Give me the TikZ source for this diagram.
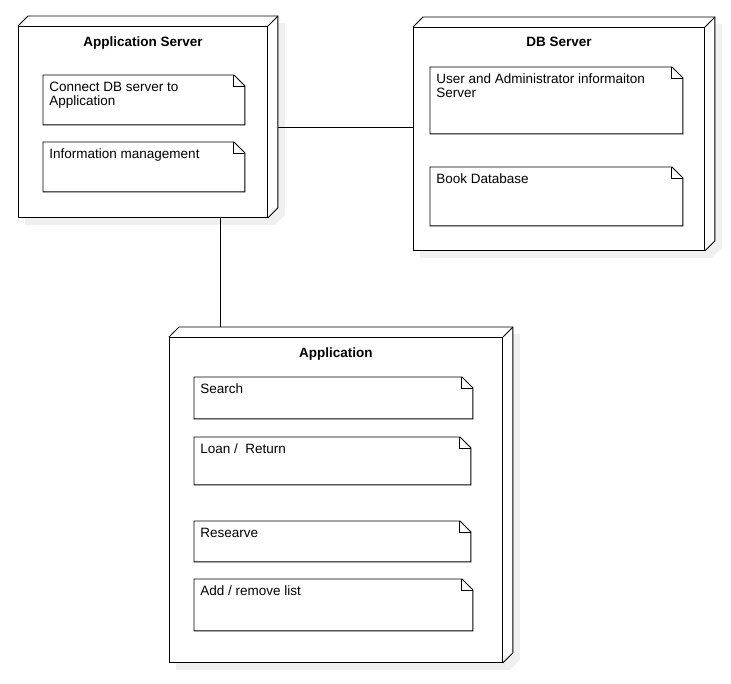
\documentclass[tikz,border=0pt]{standalone}
\usepackage{fontspec}
\setmainfont{Liberation Sans}
\usetikzlibrary{positioning, backgrounds}

\begin{document}
\begin{tikzpicture}
[x=1pt, y=-1pt, line width=0.9pt,
 device/.style={draw, fill=white, anchor=north west, inner sep=0pt},
 note/.style={anchor=north west, inner sep=0pt},
 notetext/.style={anchor=north west, align=left, inner xsep=6pt, inner ysep=6.5pt, font=\fontsize{13.5}{14}\selectfont},
 title/.style={font=\fontsize{13.5}{14}\selectfont\bfseries, inner sep=0pt}]
\useasboundingbox (0,0) rectangle (731,683);

% devices
\node[device, minimum width=249, minimum height=191] (appsrv) at (18,26) {};
\node[device, minimum width=291, minimum height=223] (dbsrv) at (413,27) {};
\node[device, minimum width=333, minimum height=325] (app) at (169,337) {};
\node[title, below=10pt of appsrv.north] (appsrvT) {Application Server};
\node[title, below=10pt of dbsrv.north] (dbsrvT) {DB Server};
\node[title, below=10pt of app.north] (appT) {Application};

% notes
\node[note, minimum width=201, minimum height=49] (n1) at (43,75) {};
\node[note, minimum width=201, minimum height=49] (n2) at (43,142) {};
\node[note, minimum width=252, minimum height=66] (n3) at (430,67) {};
\node[note, minimum width=252, minimum height=58] (n4) at (430,167) {};
\node[note, minimum width=278, minimum height=41] (n5) at (194,377) {};
\node[note, minimum width=276, minimum height=47] (n6) at (194,437) {};
\node[note, minimum width=276, minimum height=40] (n7) at (194,521) {};
\node[note, minimum width=278, minimum height=51] (n8) at (194,579) {};
\node[notetext] (n1t) at (n1.north west) {Connect DB server to\\Application};
\node[notetext] (n2t) at (n2.north west) {Information management};
\node[notetext] (n3t) at (n3.north west) {User and Administrator informaiton\\Server};
\node[notetext] (n4t) at (n4.north west) {Book Database};
\node[notetext] (n5t) at (n5.north west) {Search};
\node[notetext] (n6t) at (n6.north west) {Loan /\ \ Return};
\node[notetext] (n7t) at (n7.north west) {Researve};
\node[notetext] (n8t) at (n8.north west) {Add / remove list};

\foreach \n in {n1,n2,n3,n4,n5,n6,n7,n8} {
  \draw (\n.north west) -- ([xshift=-11pt]\n.north east) -- ([yshift=-11pt]\n.north east)
    -- (\n.south east) -- (\n.south west) -- cycle;
  \draw ([xshift=-11pt]\n.north east) |- ([yshift=-11pt]\n.north east);
}

% 3d sides and shadows
\foreach \n in {appsrv,dbsrv,app} {
  \begin{scope}[on background layer]
    \fill[black!6] ([shift={(7pt,-7pt)}]\n.north west) -- ([shift={(17pt,3pt)}]\n.north west)
      -- ([shift={(17pt,3pt)}]\n.north east) -- ([shift={(17pt,3pt)}]\n.south east)
      -- ([shift={(7pt,-7pt)}]\n.south east) -- ([shift={(7pt,-7pt)}]\n.south west) -- cycle;
    \fill[white] (\n.north west) -- ([shift={(10pt,10pt)}]\n.north west)
      -- ([shift={(10pt,10pt)}]\n.north east) -- ([shift={(10pt,10pt)}]\n.south east)
      -- (\n.south east) -- (\n.south west) -- cycle;
  \end{scope}
  \draw (\n.north west) -- ([shift={(10pt,10pt)}]\n.north west)
    -- ([shift={(10pt,10pt)}]\n.north east) -- ([shift={(10pt,10pt)}]\n.south east)
    -- (\n.south east);
  \draw (\n.north east) -- ([shift={(10pt,10pt)}]\n.north east);
}

% links
\coordinate (c1) at ([xshift=10pt,yshift=-5pt]appsrv.east);
\coordinate (c2) at ([xshift=77.5pt]appsrv.south);
\coordinate (c3) at ([yshift=10pt]app.north);
\draw (c1) -- (c1 -| dbsrv.west);
\draw (c2) -- (c2 |- c3);

\end{tikzpicture}
\end{document}
